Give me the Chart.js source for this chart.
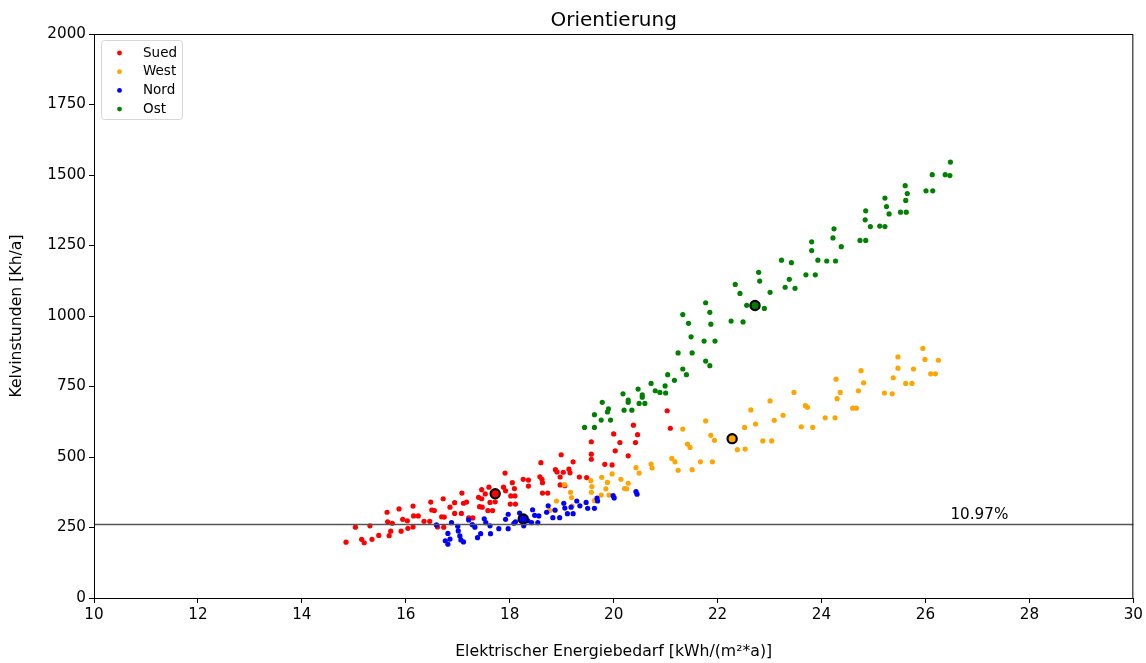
<!DOCTYPE html>
<html>
<head>
<meta charset="utf-8">
<script src="https://cdn.jsdelivr.net/npm/chart.js@4/dist/chart.umd.min.js"></script>
<style>
  html, body { margin: 0; padding: 0; background: #fff; }
  #wrap { width: 1146px; height: 663px; }
</style>
</head>
<body>
<div id="wrap"><canvas id="chart" width="1146" height="663"></canvas></div>
<script>
// series labels and colours
const seriesNames = ["Sued", "West", "Nord", "Ost"]
const seriesColors = ["#ff0000", "#ffa500", "#0000ff", "#008000"]

// [Energiebedarf, Kelvinstunden] pairs
const suedPoints = [
  [17.91, 443], [18.05, 409], [18.26, 421], [18.36, 418], [18.36, 397], [17.60, 393], [17.53, 369],
  [17.46, 384], [17.88, 393], [17.92, 380], [18.09, 388], [18.02, 362], [18.10, 362], [17.40, 357],
  [17.46, 352], [17.62, 339], [17.72, 341], [18.01, 333], [18.11, 333], [17.42, 324], [17.47, 322],
  [17.58, 310], [17.67, 310], [17.08, 372], [17.11, 336], [17.17, 340], [16.94, 338], [16.85, 322],
  [16.72, 352], [16.48, 340], [16.50, 312], [16.55, 310], [16.94, 300], [17.07, 300], [16.69, 288],
  [16.74, 287], [17.21, 284], [17.29, 284], [16.14, 326], [16.15, 291], [16.24, 291], [15.87, 316],
  [15.64, 304], [15.94, 279], [16.03, 274], [15.65, 270], [15.74, 265], [16.35, 272], [16.46, 272],
  [15.31, 256], [15.03, 251], [16.14, 252], [16.04, 247], [16.61, 252], [16.73, 251], [15.91, 237],
  [15.71, 237], [15.68, 221], [15.48, 222], [15.35, 208], [15.15, 208], [15.20, 196], [14.85, 198],
  [21.03, 664], [21.09, 602], [20.38, 613], [20.46, 579], [20.42, 551], [20.28, 504], [20.00, 582],
  [20.12, 551], [20.03, 522], [19.83, 474], [19.97, 472], [19.57, 554], [19.57, 510], [19.57, 492],
  [18.99, 508], [19.22, 483], [18.60, 480], [18.88, 455], [18.91, 447], [19.03, 446], [19.14, 457],
  [19.16, 444], [18.97, 429], [19.34, 429], [19.48, 427], [18.58, 430], [18.62, 421], [18.63, 409],
  [18.97, 401], [19.06, 398], [18.63, 372], [18.73, 372]
]

const westPoints = [
  [21.33, 599], [21.42, 546], [21.47, 534], [21.12, 495], [21.18, 483], [21.24, 453], [21.51, 455],
  [20.72, 475], [20.74, 461], [20.43, 462], [20.49, 443], [20.14, 421], [20.28, 407], [20.25, 387],
  [20.21, 388], [19.77, 428], [19.88, 410], [19.97, 440], [19.85, 387], [19.91, 365], [19.76, 365],
  [19.56, 416], [19.58, 395], [19.57, 375], [19.05, 402], [19.17, 375], [19.19, 356], [18.90, 344],
  [19.63, 345], [18.77, 310], [18.88, 310], [19.20, 326], [21.77, 628], [21.87, 577], [21.94, 559],
  [22.38, 526], [22.53, 528], [21.67, 483], [21.90, 483], [22.52, 605], [22.64, 667], [22.73, 617],
  [22.87, 557], [23.04, 557], [23.01, 699], [23.09, 630], [23.26, 648], [23.47, 729], [23.69, 682],
  [23.73, 676], [23.61, 607], [23.83, 605], [24.07, 639], [24.26, 639], [24.28, 776], [24.36, 729],
  [24.30, 707], [24.76, 806], [24.81, 763], [24.71, 735], [24.60, 673], [24.67, 673], [25.21, 727],
  [25.36, 724], [25.38, 781], [25.47, 855], [25.47, 815], [25.62, 761], [25.74, 761], [25.77, 812],
  [25.95, 885], [25.99, 846], [26.10, 795], [26.19, 795], [26.25, 843]
]

const nordPoints = [
  [16.59, 259], [16.88, 267], [17.21, 277], [17.51, 281], [17.54, 267], [17.97, 297], [17.92, 279],
  [18.19, 301], [18.08, 265], [18.11, 270], [18.27, 256], [17.28, 260], [17.33, 251], [17.62, 256],
  [17.79, 246], [17.97, 246], [17.00, 254], [17.01, 238], [16.81, 229], [17.04, 220], [17.06, 206],
  [17.11, 199], [16.85, 209], [16.76, 203], [16.81, 191], [17.44, 228], [17.38, 214], [17.63, 228],
  [18.44, 313], [18.48, 293], [18.56, 291], [18.35, 274], [18.42, 267], [18.54, 267], [18.74, 327],
  [18.71, 304], [18.83, 285], [18.96, 285], [18.87, 312], [19.04, 336], [19.06, 319], [19.11, 299],
  [19.22, 299], [19.18, 322], [19.29, 344], [19.35, 327], [19.47, 339], [19.50, 318], [19.63, 318],
  [19.68, 354], [19.69, 344], [19.99, 363], [20.01, 355], [20.43, 377], [20.45, 368]
]

const ostPoints = [
  [26.48, 1546], [26.13, 1501], [26.38, 1501], [26.47, 1498], [26.01, 1444], [26.14, 1444],
  [25.61, 1462], [25.65, 1434], [25.62, 1410], [25.22, 1418], [25.25, 1388], [25.30, 1362],
  [25.52, 1368], [25.63, 1368], [24.85, 1373], [24.84, 1341], [24.94, 1317], [25.12, 1319],
  [25.22, 1317], [24.24, 1309], [24.22, 1277], [24.38, 1246], [24.74, 1268], [24.85, 1268],
  [23.81, 1263], [23.81, 1232], [23.93, 1198], [24.10, 1195], [24.27, 1195], [23.23, 1198],
  [23.42, 1189], [23.70, 1146], [23.88, 1146], [23.38, 1130], [23.30, 1102], [23.49, 1098],
  [22.79, 1155], [22.81, 1124], [23.01, 1084], [22.34, 1112], [22.43, 1080], [22.56, 1038],
  [22.90, 1027], [22.26, 982], [22.49, 979], [21.77, 1047], [21.85, 1013], [21.87, 971],
  [21.33, 1005], [21.44, 974], [21.49, 926], [21.74, 911], [21.95, 911], [21.24, 869], [21.51, 869],
  [21.77, 840], [21.85, 824], [21.33, 812], [21.40, 792], [21.04, 792], [21.17, 772], [20.72, 761],
  [20.99, 752], [20.80, 735], [20.89, 729], [21.00, 727], [20.47, 741], [20.18, 724], [20.55, 720],
  [20.55, 712], [20.28, 702], [20.28, 694], [20.49, 690], [20.60, 690], [19.78, 694], [19.90, 671],
  [19.88, 660], [20.20, 666], [20.35, 666], [19.63, 650], [19.76, 631], [19.94, 631], [19.44, 605],
  [19.63, 605]
]

// group centres (black ringed markers)
const centres = [[17.72, 370], [22.28, 565], [18.26, 280], [22.72, 1037]]

// reference line
const hlineValue = 261
const hlineLabel = "10.97%"
const hlineLabelX = 26.48

const chartTitle = "Orientierung"
const xTicks = [10, 12, 14, 16, 18, 20, 22, 24, 26, 28, 30]
const yTicks = [0, 250, 500, 750, 1000, 1250, 1500, 1750, 2000]

const FONT = "'DejaVu Sans', sans-serif"

const toXY = (arr) => arr.map((p) => ({ x: p[0], y: p[1] }))
const allPoints = [suedPoints, westPoints, nordPoints, ostPoints]

const datasets = []
allPoints.forEach((pts, i) => {
  datasets.push({
    label: seriesNames[i],
    data: toXY(pts),
    backgroundColor: seriesColors[i],
    borderWidth: 0,
    pointRadius: 2.6,
    pointHoverRadius: 2.6,
    order: 10 - i,
  })
})
centres.forEach((c, i) => {
  datasets.push({
    label: "",
    data: [{ x: c[0], y: c[1] }],
    backgroundColor: seriesColors[i],
    borderColor: "#000",
    borderWidth: 2.2,
    pointRadius: 4.6,
    order: 2,
  })
})

// box around the plot, horizontal line, its label and the title
const framePlugin = {
  id: "frame",
  afterDatasetsDraw(chart) {
    const { ctx, chartArea, scales } = chart
    const yPx = scales.y.getPixelForValue(hlineValue)
    ctx.save()
    ctx.strokeStyle = "#555"
    ctx.lineWidth = 1.5
    ctx.beginPath()
    ctx.moveTo(chartArea.left, yPx)
    ctx.lineTo(chartArea.right, yPx)
    ctx.stroke()
    ctx.fillStyle = "#000"
    ctx.font = "15.2px " + FONT
    ctx.textAlign = "left"
    ctx.textBaseline = "alphabetic"
    ctx.fillText(hlineLabel, scales.x.getPixelForValue(hlineLabelX), yPx - 5)

    ctx.strokeStyle = "#000"
    ctx.lineWidth = 1
    ctx.strokeRect(chartArea.left + 0.5, chartArea.top + 0.5,
      chartArea.right - chartArea.left - 1, chartArea.bottom - chartArea.top)

    // title centred over the plot area
    ctx.font = "20px " + FONT
    ctx.textAlign = "center"
    ctx.textBaseline = "middle"
    ctx.fillText(chartTitle, (chartArea.left + chartArea.right) / 2, chartArea.top - 13)
    ctx.restore()
  },
}

// matplotlib-like legend in the upper left corner
const legendPlugin = {
  id: "boxLegend",
  afterDraw(chart) {
    const { ctx, chartArea } = chart
    const x0 = chartArea.left + 7
    const y0 = chartArea.top + 6
    const w = 81
    const h = 79
    ctx.save()
    ctx.fillStyle = "rgba(255,255,255,0.8)"
    ctx.strokeStyle = "#d6d6d6"
    ctx.lineWidth = 1
    ctx.beginPath()
    ctx.roundRect(x0 + 0.5, y0 + 0.5, w, h, 3)
    ctx.fill()
    ctx.stroke()
    ctx.font = "13.5px " + FONT
    ctx.textBaseline = "middle"
    seriesNames.forEach((name, i) => {
      const cy = y0 + 13 + i * 18.7
      ctx.fillStyle = seriesColors[i]
      ctx.beginPath()
      ctx.arc(x0 + 18.5, cy, 2.4, 0, Math.PI * 2)
      ctx.fill()
      ctx.fillStyle = "#000"
      ctx.fillText(name, x0 + 42, cy)
    })
    ctx.restore()
  },
}

new Chart(document.getElementById("chart"), {
  type: "scatter",
  data: { datasets: datasets },
  options: {
    responsive: false,
    animation: false,
    devicePixelRatio: 1,
    layout: { padding: { left: 0, right: 12, top: 34, bottom: 0 } },
    plugins: {
      legend: { display: false },
      tooltip: { enabled: false },
      title: { display: false },
    },
    scales: {
      x: {
        type: "linear",
        min: 10,
        max: 30,
        afterFit: (s) => { s.height = 65 },
        afterBuildTicks: (s) => { s.ticks = xTicks.map((v) => ({ value: v })) },
        ticks: {
          color: "#000",
          font: { family: FONT, size: 15.2 },
          padding: 3,
          maxRotation: 0,
          callback: (v) => String(v),
        },
        grid: { display: true, drawOnChartArea: false, drawTicks: true, tickLength: 5, color: "#000" },
        border: { display: true, color: "#000" },
        title: {
          display: true,
          text: "Elektrischer Energiebedarf [kWh/(m²*a)]",
          color: "#000",
          font: { family: FONT, size: 15.7 },
          padding: { top: 0, bottom: 2 },
        },
      },
      y: {
        type: "linear",
        min: 0,
        max: 2000,
        afterFit: (s) => { s.width = 94 },
        afterBuildTicks: (s) => { s.ticks = yTicks.map((v) => ({ value: v })) },
        ticks: {
          color: "#000",
          font: { family: FONT, size: 15.2 },
          padding: 3,
          callback: (v) => String(v),
        },
        grid: { display: true, drawOnChartArea: false, drawTicks: true, tickLength: 5, color: "#000" },
        border: { display: true, color: "#000" },
        title: {
          display: true,
          text: "Kelvinstunden [Kh/a]",
          color: "#000",
          font: { family: FONT, size: 15.7 },
          padding: { top: 8, bottom: 0 },
        },
      },
    },
  },
  plugins: [framePlugin, legendPlugin],
})
</script>
</body>
</html>
